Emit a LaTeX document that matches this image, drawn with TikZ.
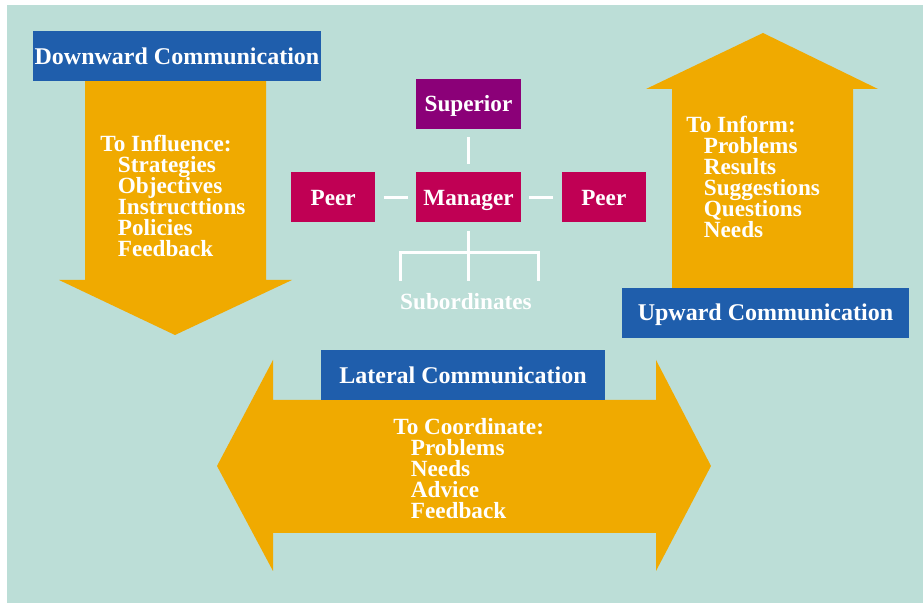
\documentclass[tikz,border=0pt]{standalone}
\usepackage{fontspec}
\setmainfont{Liberation Serif}
\usepackage{tikz}
\usetikzlibrary{positioning}
\definecolor{bgteal}{RGB}{188,222,215}
\definecolor{commblue}{RGB}{31,94,172}
\definecolor{commgold}{RGB}{240,170,0}
\definecolor{supplum}{RGB}{139,0,120}
\definecolor{mgrred}{RGB}{192,0,84}
\newcommand{\subind}{\hspace*{8.75pt}}
\tikzset{
  comm title/.style={fill=commblue,text=white,inner sep=0pt,minimum height=25pt,
    text height=7.6pt,text depth=0pt,font=\fontsize{12}{14}\selectfont\bfseries},
  comm arrow/.style={fill=commgold},
  list text/.style={text=white,align=left,inner sep=0pt,anchor=north west,
    font=\fontsize{11.6}{10.5}\selectfont\bfseries\setlength\lineskiplimit{-20pt}},
  chart node/.style={fill=mgrred,text=white,inner sep=0pt,minimum width=52.5pt,
    minimum height=25pt,text height=8pt,text depth=0pt,
    font=\fontsize{11.6}{14}\selectfont\bfseries},
  peer node/.style={chart node,minimum width=42pt},
  superior node/.style={chart node,fill=supplum},
  chart label/.style={text=white,inner sep=0pt,font=\fontsize{11.6}{14}\selectfont\bfseries},
  chart link/.style={white,line width=1.5pt,shorten <=4pt,shorten >=4pt},
  branch link/.style={white,line width=1.5pt},
}

\begin{document}
\begin{tikzpicture}[x=0.5pt,y=-0.5pt,node distance=21.5pt and 20pt]
  \useasboundingbox (0,0) rectangle (923,603);
  \fill[bgteal] (7,5) rectangle (923,603);
  \fill[comm arrow] (85,81) -- (266,81) -- (266,280) -- (292,280) -- (175,335)
    -- (59,280) -- (85,280) -- cycle;
  \fill[comm arrow] (672,288) -- (853,288) -- (853,89) -- (878,89) -- (763,33)
    -- (646,89) -- (672,89) -- cycle;
  \fill[comm arrow] (273,400) -- (273,360) -- (217,466) -- (273,571) -- (273,533)
    -- (656,533) -- (656,571) -- (711,466) -- (656,360) -- (656,400) -- cycle;
  \node[comm title,minimum width=144pt] (down) at (177,56.5) {Downward Communication};
  \node[comm title,minimum width=143.5pt] (up) at (765.5,313) {Upward Communication};
  \node[comm title,minimum width=142pt] (lat) at (463,375.5) {Lateral Communication};
  \node[list text] (influence) at (100,135) {To Influence:\\\subind Strategies\\
    \subind Objectives\\\subind Instructtions\\\subind Policies\\\subind Feedback};
  \node[list text] (inform) at (686,116) {To Inform:\\\subind Problems\\
    \subind Results\\\subind Suggestions\\\subind Questions\\\subind Needs};
  \node[list text] (coordinate) at (393,418) {To Coordinate:\\\subind Problems\\
    \subind Needs\\\subind Advice\\\subind Feedback};
  \node[chart node] (mgr) at (468.5,197.5) {Manager};
  \node[superior node,above=of mgr] (sup) {Superior};
  \node[peer node,left=of mgr] (peerL) {Peer};
  \node[peer node,right=of mgr] (peerR) {Peer};
  \coordinate[below=15pt of mgr.south] (fork);
  \coordinate[left=34pt of fork] (forkL);
  \coordinate[right=35pt of fork] (forkR);
  \coordinate[below=14pt of forkL] (dropL);
  \coordinate[below=14pt of fork] (dropM);
  \coordinate[below=14pt of forkR] (dropR);
  \node[chart label] (subs) at (466,302) {Subordinates};
  \draw[chart link] (sup) -- (mgr);
  \draw[chart link] (peerL) -- (mgr);
  \draw[chart link] (mgr) -- (peerR);
  \draw[chart link,shorten >=0pt] (mgr) -- (fork);
  \draw[branch link] (dropL) -- (forkL) -- (forkR) -- (dropR);
  \draw[branch link] (fork) -- (dropM);
\end{tikzpicture}
\end{document}
